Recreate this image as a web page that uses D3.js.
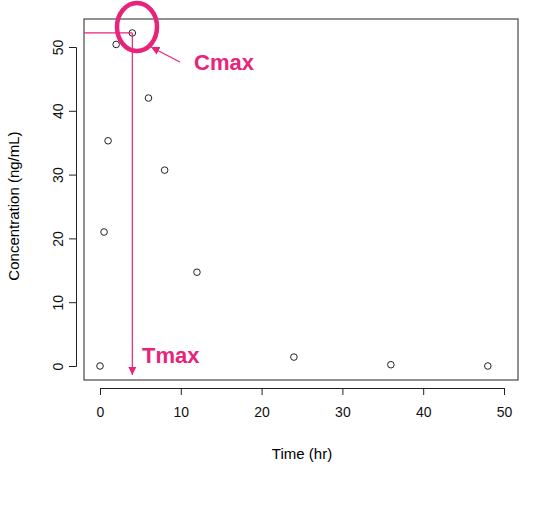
<!DOCTYPE html><html><head><script src="https://cdn.jsdelivr.net/npm/d3@7"></script>
<style>body{margin:0;background:#fff}text{font-family:"Liberation Sans",Arial,sans-serif}</style></head><body><svg width="550" height="522"></svg><script>
const times=[0,0.5,1,2,4,6,8,12,24,36,48];
const conc=[0,21,35.3,50.4,52.2,42,30.7,14.7,1.4,0.2,0];
const xTicks=[0,10,20,30,40,50], yTicks=[0,10,20,30,40,50];
const pink="#e8237a";
const svg=d3.select("svg");
const x=d3.scaleLinear().domain([0,50]).range([100,504]);
const y=d3.scaleLinear().domain([0,50]).range([366,47]);
svg.append("rect").attr("x",84).attr("y",19).attr("width",434).attr("height",361).attr("fill","none").attr("stroke","#222");
const xa=svg.append("g").attr("transform","translate(0,388)").call(d3.axisBottom(x).tickValues(xTicks).tickSize(7).tickPadding(12));
const ya=svg.append("g").attr("transform","translate(76,0)").call(d3.axisLeft(y).tickValues(yTicks).tickSize(7).tickPadding(5));
[xa,ya].forEach(a=>{a.selectAll("path,line").attr("stroke","#222");a.selectAll("text").attr("font-size",14).attr("fill","#111");});
ya.selectAll("text").attr("text-anchor","middle").attr("transform",d=>`rotate(-90,-12,${y(d)}) translate(-12,${0})`).attr("x",0).attr("dy","0.35em");
ya.selectAll(".tick text").each(function(d){d3.select(this).attr("transform",null).attr("x",null).attr("dy",null).attr("transform",`translate(-17,0) rotate(-90)`).attr("text-anchor","middle").attr("dy","0.32em");});
svg.append("text").attr("x",302).attr("y",459).attr("text-anchor","middle").attr("font-size",15).text("Time (hr)");
svg.append("text").attr("transform","translate(19,206) rotate(-90)").attr("text-anchor","middle").attr("font-size",15).text("Concentration (ng/mL)");
svg.selectAll("circle.p").data(times).enter().append("circle").attr("class","p").attr("cx",d=>x(d)).attr("cy",(d,i)=>y(conc[i])).attr("r",3.3).attr("fill","none").attr("stroke","#222");
const defs=svg.append("defs");
defs.append("marker").attr("id","ah").attr("viewBox","0 0 10 10").attr("refX",10).attr("refY",5).attr("markerWidth",7).attr("markerHeight",7).attr("orient","auto-start-reverse").append("path").attr("d","M0,0L10,5L0,10z").attr("fill",pink);
const mi=d3.maxIndex(conc);
svg.append("line").attr("x1",84).attr("x2",x(times[mi])).attr("y1",y(conc[mi])).attr("y2",y(conc[mi])).attr("stroke",pink).attr("stroke-width",1.2);
svg.append("line").attr("x1",x(times[mi])).attr("x2",x(times[mi])).attr("y1",y(conc[mi])).attr("y2",375).attr("stroke",pink).attr("stroke-width",1.2).attr("marker-end","url(#ah)");
svg.append("ellipse").attr("cx",137).attr("cy",27).attr("rx",20).attr("ry",24).attr("fill","none").attr("stroke",pink).attr("stroke-width",4.5);
svg.append("line").attr("x1",180).attr("y1",62).attr("x2",151).attr("y2",47).attr("stroke",pink).attr("stroke-width",1.2).attr("marker-end","url(#ah)");
svg.append("text").attr("x",194).attr("y",70).attr("font-size",22).attr("font-weight","bold").attr("fill",pink).text("Cmax");
svg.append("text").attr("x",142).attr("y",363).attr("font-size",22).attr("font-weight","bold").attr("fill",pink).text("Tmax");
</script></body></html>
